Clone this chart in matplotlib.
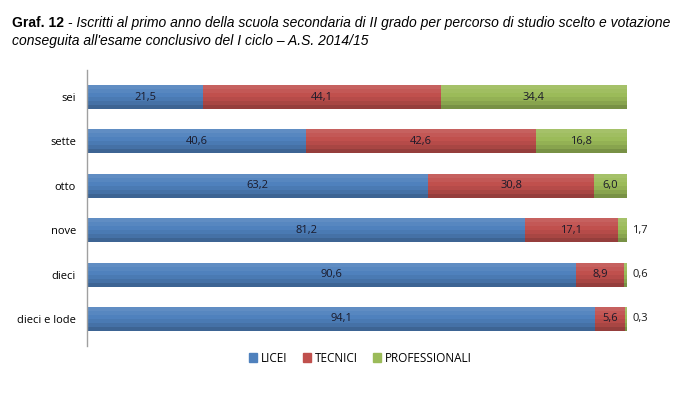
import matplotlib.pyplot as plt
import numpy as np

categories = ['sei', 'sette', 'otto', 'nove', 'dieci', 'dieci e lode']
licei = [21.5, 40.6, 63.2, 81.2, 90.6, 94.1]
tecnici = [44.1, 42.6, 30.8, 17.1, 8.9, 5.6]
professionali = [34.4, 16.8, 6.0, 1.7, 0.6, 0.3]
series = [('LICEI', licei, '#4F81BD'),
          ('TECNICI', tecnici, '#C0504D'),
          ('PROFESSIONALI', professionali, '#9BBB59')]

plt.rcParams['font.family'] = ['Open Sans', 'DejaVu Sans']

fig = plt.figure(figsize=(6.93, 3.94), dpi=100)
ax = fig.add_axes([0.1255, 0.1228, 0.779, 0.6985])

y = np.arange(len(categories))
h = 0.54
# cylinder-like shading: strips from top (light) to bottom (dark)
shade = [('white', 0.10), ('white', 0.05), (None, 0), ('black', 0.05), ('black', 0.12), ('black', 0.22)]
n = len(shade)
left = np.zeros(len(categories))
for name, vals, col in series:
    vals = np.array(vals)
    ax.barh(y, vals, left=left, height=h, color=col, edgecolor='none', label=name)
    for k, (sc, a) in enumerate(shade):
        if sc is None:
            continue
        off = -h / 2 + (k + 0.5) * h / n
        ax.barh(y + off, vals, left=left, height=h / n, color=sc, alpha=a,
                edgecolor='none', antialiased=False)
    for i, v in enumerate(vals):
        txt = f'{v:.1f}'.replace('.', ',')
        if v < 3:
            ax.text(101, y[i], txt, ha='left', va='center', fontsize=8, color='#1a1a1a')
        else:
            ax.text(left[i] + v / 2, y[i], txt, ha='center', va='center', fontsize=8, color='#1a1a2a')
    left += vals

ax.set_xlim(0, 100)
ax.set_ylim(len(categories) - 0.4, -0.6)
ax.set_yticks(y)
ax.set_yticklabels(categories, fontsize=8)
ax.tick_params(axis='y', length=0, pad=8)
ax.set_xticks([])
for s in ['top', 'right', 'bottom']:
    ax.spines[s].set_visible(False)
ax.spines['left'].set_color('#a0a0a0')
ax.spines['left'].set_linewidth(1.0)

handles = [plt.Rectangle((0, 0), 1, 1, color=c) for _, _, c in series]
fig.legend(handles, [n for n, _, _ in series], loc='center', bbox_to_anchor=(0.52, 1 - 358 / 394),
           ncol=3, frameon=False, fontsize=8.5, handlelength=0.7, handleheight=0.7,
           handletextpad=0.3, columnspacing=1.3)

# title: bold label followed by italic text
fig.canvas.draw()
r = fig.canvas.get_renderer()
t1 = fig.text(12 / 693, 1 - 27 / 394, 'Graf. 12', fontsize=10, fontweight='bold',
              family='Liberation Sans', ha='left', va='baseline')
bb = t1.get_window_extent(renderer=r)
fig.text(bb.x1 / 693, 1 - 27 / 394,
         ' - Iscritti al primo anno della scuola secondaria di II grado per percorso di studio scelto e votazione',
         fontsize=10, style='italic', family='Liberation Sans', ha='left', va='baseline')
fig.text(12 / 693, 1 - 45 / 394,
         "conseguita all'esame conclusivo del I ciclo \u2013 A.S. 2014/15",
         fontsize=10, style='italic', family='Liberation Sans', ha='left', va='baseline')

fig.savefig('out.png', dpi=100)
